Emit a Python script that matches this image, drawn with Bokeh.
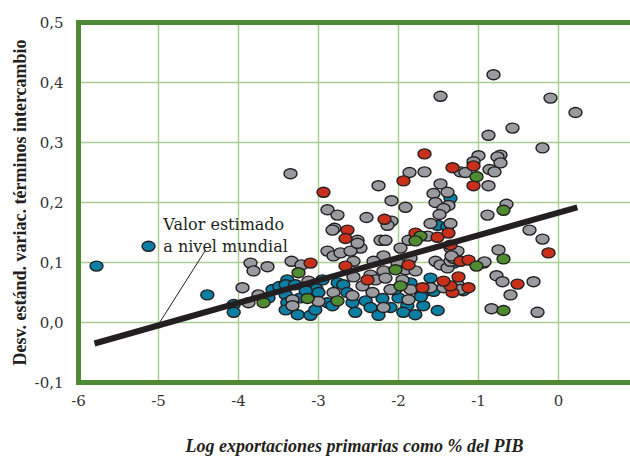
from bokeh.plotting import figure
from bokeh.models import ColumnDataSource, FixedTicker, LinearAxis, Range1d
from bokeh.core.properties import value
from bokeh.embed import file_html
from bokeh.resources import INLINE

# ---------------- data ----------------
blue_x = [-5.775, -5.125, -4.39, -4.06, -4.06, -3.39, -3.575, -3.49, -3.41, -3.29, -3.025, -2.76,
          -3.41, -3.39, -3.41, -3.26, -3.10, -3.04, -2.89, -3.0, -2.825, -2.69, -2.64, -2.575,
          -2.41, -2.35, -2.10, -1.89, -2.0, -1.94, -1.79, -1.69, -1.51, -1.69, -1.60, -1.31,
          -1.19, -1.35, -1.51, -1.39, -3.625, -3.225, -3.16, -2.95, -2.54, -2.25, -2.04, -1.85,
          -1.72, -1.56, -2.2]
blue_y = [0.094, 0.127, 0.046, 0.030, 0.017, 0.071, 0.055, 0.060, 0.063, 0.063, 0.056, 0.066,
          0.046, 0.033, 0.021, 0.013, 0.012, 0.021, 0.033, 0.050, 0.028, 0.063, 0.050, 0.033,
          0.036, 0.025, 0.025, 0.028, 0.041, 0.017, 0.013, 0.028, 0.020, 0.050, 0.074, 0.099,
          0.053, 0.207, 0.162, 0.160, 0.041, 0.041, 0.053, 0.071, 0.017, 0.012, 0.055, 0.066,
          0.043, 0.052, 0.040]

gray_x = [-3.35, -0.8125, -1.475, -0.10, 0.2125, -0.575, -0.875, -0.20, -1.0, -0.725, -0.7625,
          -0.725, -1.0625, -1.225, -1.1625, -0.8625, -0.80, -0.875, -0.65, -0.8875, -0.3625,
          -0.20, -1.675, -1.8625, -2.25, -2.0875, -1.475, -2.8875, -2.7625, -2.40, -2.0875,
          -1.9125, -1.5625, -1.3875, -1.5375, -1.375, -1.4375, -1.4875, -2.1375, -2.5125,
          -1.60, -1.35, -1.6375, -1.875, -2.225, -2.80, -3.85, -3.8125, -3.6375, -3.3375,
          -3.2125, -2.8875, -2.8125, -2.725, -3.95, -3.125, -2.8125, -3.75, -3.875, -3.325,
          -3.325, -3.0, -2.475, -2.60, -2.5625, -2.1625, -1.975, -1.85, -2.1875, -2.3125,
          -2.0125, -1.9125, -1.7875, -2.1875, -2.35, -2.5625, -2.2875, -2.1625, -1.95, -1.85,
          -2.10, -2.325, -2.45, -2.575, -2.1875, -1.875, -1.60, -1.4375, -1.5375, -1.475,
          -1.3875, -1.35, -1.35, -1.3125, -1.2625, -0.9375, -1.2625, -1.225, -1.3375,
          -2.825, -2.5125, -0.75, -0.925, -0.775, -0.70, -0.3125, -0.60, -0.8375, -0.2625]
gray_y = [0.248, 0.413, 0.377, 0.374, 0.350, 0.324, 0.312, 0.291, 0.278, 0.279, 0.276,
          0.266, 0.268, 0.251, 0.250, 0.255, 0.251, 0.228, 0.197, 0.179, 0.154,
          0.139, 0.251, 0.250, 0.228, 0.203, 0.231, 0.188, 0.179, 0.175, 0.169,
          0.192, 0.215, 0.217, 0.200, 0.195, 0.190, 0.180, 0.162, 0.137,
          0.165, 0.165, 0.144, 0.137, 0.137, 0.157, 0.099, 0.086, 0.093, 0.102,
          0.096, 0.119, 0.111, 0.116, 0.058, 0.069, 0.050, 0.046, 0.033, 0.038,
          0.028, 0.035, 0.124, 0.119, 0.102, 0.137, 0.124, 0.107, 0.111, 0.102,
          0.099, 0.088, 0.086, 0.086, 0.079, 0.076, 0.071, 0.074, 0.071, 0.055,
          0.055, 0.050, 0.061, 0.045, 0.025, 0.038, 0.058, 0.058, 0.102, 0.096,
          0.091, 0.102, 0.124, 0.107, 0.119, 0.099, 0.063, 0.055, 0.111,
          0.154, 0.132, 0.121, 0.101, 0.078, 0.068, 0.068, 0.046, 0.023, 0.017]

red_x = [-1.675, -1.0625, -1.325, -1.0625, -1.9375, -2.9375, -2.175, -2.6375, -2.6625, -1.7875,
         -1.5125, -1.375, -0.125, -1.225, -1.125, -1.25, -1.125, -1.325, -0.5125, -3.10,
         -2.6625, -1.875, -2.3875, -1.70, -1.35, -1.4375, -1.35]
red_y = [0.281, 0.261, 0.258, 0.228, 0.236, 0.217, 0.172, 0.154, 0.140, 0.149,
         0.142, 0.149, 0.116, 0.102, 0.104, 0.076, 0.058, 0.050, 0.064, 0.099,
         0.094, 0.096, 0.071, 0.058, 0.061, 0.069, 0.129]

green_x = [-1.025, -0.6875, -1.725, -0.6875, -1.025, -0.6875, -3.25, -3.6875, -3.1375, -2.7625,
           -1.7875, -2.0375, -1.975]
green_y = [0.243, 0.187, 0.144, 0.106, 0.094, 0.020, 0.083, 0.033, 0.040, 0.036,
           0.136, 0.088, 0.061]

# estimated world value (regression line end points)
fit_x = [-5.80, 0.235]
fit_y = [-0.035, 0.192]

x_ticks = [-6, -5, -4, -3, -2, -1, 0]
x_tick_labels = ["-6", "-5", "-4", "-3", "-2", "-1", "0"]
y_ticks = [-0.1, 0.0, 0.1, 0.2, 0.3, 0.4, 0.5]
y_tick_labels = ["-0,1", "0,0", "0,1", "0,2", "0,3", "0,4", "0,5"]

note_lines = ["Valor estimado", "a nivel mundial"]
x_title = "Log exportaciones primarias como % del PIB"
y_title = "Desv. estánd. variac. términos intercambio"

# ---------------- styles ----------------
GREEN_FRAME = "#4e8a34"
GRID = "#a9cd95"
OUTLINE = "#231f20"
SERIF = "DejaVu Serif"
LABEL_SERIF = "Liberation Serif"

p = figure(width=630, height=458, output_backend="svg", toolbar_location=None,
           x_range=Range1d(-6, 0.9), y_range=Range1d(-0.1, 0.5),
           min_border_left=78, min_border_right=0, min_border_top=22, min_border_bottom=73)
p.outline_line_color = None
p.background_fill_color = "white"

for ax in (p.xaxis[0], p.yaxis[0]):
    ax.axis_line_color = GREEN_FRAME
    ax.axis_line_width = 5
    ax.axis_line_cap = "square"
    ax.major_tick_line_color = None
    ax.minor_tick_line_color = None
    ax.major_tick_out = 0
    ax.major_tick_in = 0
    ax.major_label_text_font = SERIF
    ax.major_label_text_font_size = "15px"
    ax.major_label_text_color = "#333333"
    ax.axis_label_text_color = "#231f20"
    ax.axis_label_text_font = LABEL_SERIF
    ax.axis_label_text_font_size = "18px"

p.xaxis.ticker = FixedTicker(ticks=x_ticks)
p.xaxis.major_label_overrides = {t: l for t, l in zip(x_ticks, x_tick_labels)}
p.yaxis.ticker = FixedTicker(ticks=y_ticks)
p.yaxis.major_label_overrides = {t: l for t, l in zip(y_ticks, y_tick_labels)}
p.xaxis.major_label_standoff = 12
p.yaxis.major_label_standoff = 15
p.xaxis.axis_label = x_title
p.xaxis.axis_label_text_font_style = "bold italic"
p.xaxis.axis_label_standoff = 27
p.yaxis.axis_label = y_title
p.yaxis.axis_label_text_font_style = "bold"
p.yaxis.axis_label_standoff = 2

top = LinearAxis(ticker=FixedTicker(ticks=[]), axis_line_color=GREEN_FRAME, axis_line_width=5,
                 axis_line_cap="square", major_tick_line_color=None, minor_tick_line_color=None,
                 major_tick_out=0, major_tick_in=0, major_label_standoff=0,
                 major_label_text_font_size="0px")
p.add_layout(top, "above")

p.xgrid.ticker = FixedTicker(ticks=x_ticks)
p.ygrid.ticker = FixedTicker(ticks=y_ticks)
for g in (p.xgrid[0], p.ygrid[0]):
    g.grid_line_color = GRID
    g.grid_line_width = 1.5

def dots(xs, ys, color):
    src = ColumnDataSource(dict(x=xs, y=ys))
    p.ellipse(x="x", y="y", width=13, height=10, width_units="screen", height_units="screen",
              source=src, fill_color=color, line_color=OUTLINE, line_width=1.4)

dots(blue_x, blue_y, "#0b7ea3")
dots(gray_x, gray_y, "#9a9ba0")
dots(red_x, red_y, "#c9301c")
dots(green_x, green_y, "#4f8b30")

p.line(fit_x, fit_y, line_color=OUTLINE, line_width=6)

# leader line of the annotation
p.line([-4.41, -5.0], [0.121, -0.003], line_color=OUTLINE, line_width=1)
p.text(x=[-4.94, -4.94], y=[0.164, 0.127], text=note_lines, text_font=value(SERIF),
       text_font_size="16px", text_color="#231f20", text_baseline="alphabetic", text_align="left")

open("out.html", "w").write(file_html(p, INLINE))
